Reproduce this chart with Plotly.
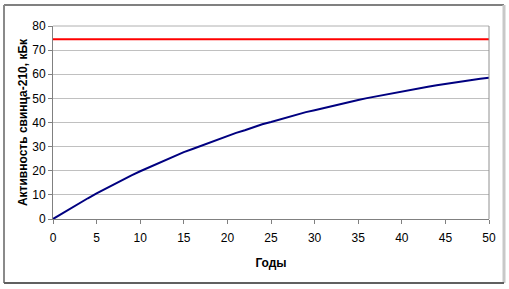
import plotly.graph_objects as go

years = list(range(0, 51))
activity = [0.0, 2.2, 4.5, 6.4, 8.6, 10.6, 12.5, 14.6, 16.2, 18.1, 19.8,
            21.4, 23.1, 24.5, 26.0, 27.7, 29.0, 30.4, 31.8, 33.2, 34.5,
            35.7, 36.8, 38.1, 39.3, 40.2, 41.3, 42.3, 43.4, 44.3, 45.1,
            46.0, 46.8, 47.8, 48.5, 49.3, 50.1, 50.8, 51.6, 52.3, 52.9,
            53.6, 54.2, 54.8, 55.4, 56.0, 56.5, 57.1, 57.6, 58.1, 58.6]
limit_value = 74.5
x_ticks = list(range(0, 51, 5))
y_ticks = list(range(0, 81, 10))
x_title = "Годы"
y_title = "Активность свинца-210, кБк"

W, H = 509, 289
L, R, T, B = 53, 20, 26, 70
pw, ph = W - L - R, H - T - B

def px(x):
    return (x - L) / pw

def py(y):
    return (H - B - y) / ph

fig = go.Figure()
fig.add_trace(go.Scatter(x=[years[0], years[-1]], y=[limit_value, limit_value],
                         mode="lines", line=dict(color="#ff0000", width=2),
                         showlegend=False, hoverinfo="skip"))
fig.add_trace(go.Scatter(x=years, y=activity, mode="lines",
                         line=dict(color="#000080", width=2),
                         showlegend=False))

shapes = [
    dict(type="line", xref="paper", yref="paper", x0=0, x1=1, y0=1, y1=1,
         line=dict(color="#b0b0b0", width=1)),
    dict(type="line", xref="paper", yref="paper", x0=1, x1=1, y0=0, y1=1,
         line=dict(color="#909090", width=1)),
    dict(type="line", xref="paper", yref="paper", x0=px(4), x1=px(504), y0=py(5), y1=py(5),
         line=dict(color="#808080", width=2)),
    dict(type="line", xref="paper", yref="paper", x0=px(4), x1=px(4), y0=py(5), y1=py(283),
         line=dict(color="#8a8a8a", width=2)),
    dict(type="line", xref="paper", yref="paper", x0=px(504), x1=px(504), y0=py(5), y1=py(283),
         line=dict(color="#c8c8c8", width=3)),
    dict(type="line", xref="paper", yref="paper", x0=px(4), x1=px(504), y0=py(283), y1=py(283),
         line=dict(color="#606060", width=2)),
]

fig.update_layout(
    width=W, height=H,
    margin=dict(l=L, r=R, t=T, b=B),
    paper_bgcolor="white", plot_bgcolor="white",
    font=dict(family="Liberation Sans, Arial, sans-serif", size=12, color="black"),
    shapes=shapes,
    xaxis=dict(range=[0, 50], tickvals=x_ticks, showgrid=False, zeroline=False,
               showline=True, linecolor="#808080", linewidth=1,
               ticks="outside", ticklen=4, tickcolor="#808080", ticklabelstandoff=4,
               tickfont=dict(size=12), title=dict(text="<b>" + x_title + "</b>",
                                                  font=dict(size=12), standoff=14)),
    yaxis=dict(range=[0, 80], tickvals=y_ticks, showgrid=True, gridcolor="#c0c0c0",
               gridwidth=1, zeroline=False, showline=True, linecolor="#808080",
               linewidth=1, ticks="outside", ticklen=4, tickcolor="#808080",
               tickfont=dict(size=12), title=dict(text="<b>" + y_title + "</b>",
                                                  font=dict(size=12), standoff=2)),
)

fig.write_html("out.html")
